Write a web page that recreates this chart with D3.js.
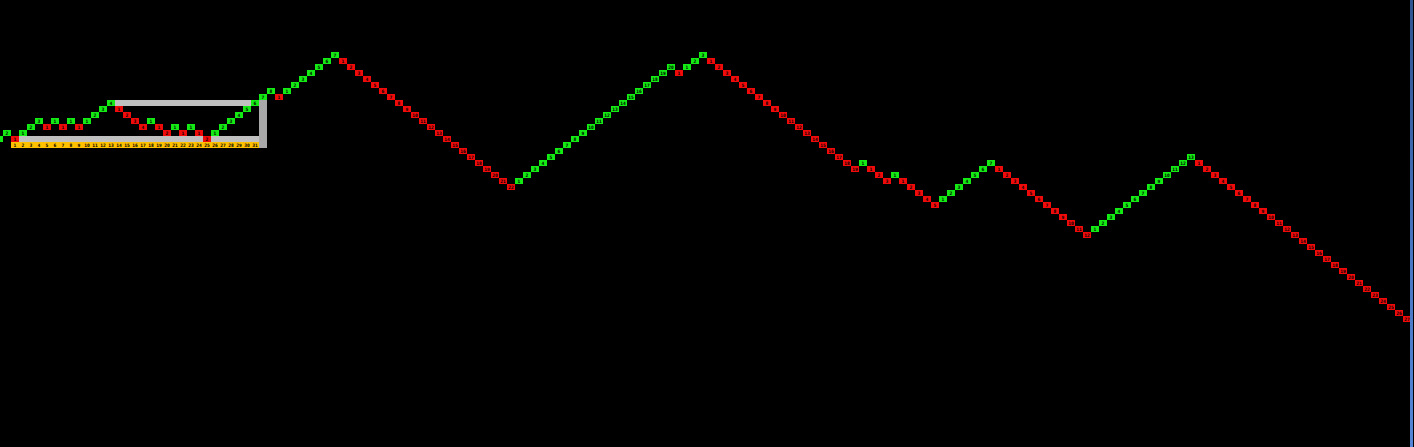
<!DOCTYPE html>
<html>
<head>
<meta charset="utf-8">
<script src="https://cdn.jsdelivr.net/npm/d3@7"></script>
<style>
  html, body { margin: 0; padding: 0; background: #000; overflow: hidden; }
  svg { display: block; }
</style>
</head>
<body>
<svg id="chart" width="1414" height="447"></svg>
<script>
// Signed run lengths of the walk: + = up (green), - = down (red)
const runs = [2, -1, 3, -1, 1, -1, 1, -1, 4, -4, 1, -2, 1, -1, 1, -2, 8, -1, 7, -22, 20, -1, 3, -19, 1, -3, 1, -5, 7, -12, 13, -27];
// Ruler labels under the framed area
const rulerLabels = ["1","2","3","4","5","6","7","8","9","10","11","12","13","14","15","16","17","18","19","20","21","22","23","24","25","26","27","28","29","30","31"];
const rulerStart = 2;     // first step index of the ruler
const frameTopLevel = 7;  // level of the frame's top bar
const frameTopFrom = 14, frameRight = 33, frameBottomFrom = 2;

const W = 1414, H = 447;
const svg = d3.select("#chart");
svg.append("rect").attr("width", W).attr("height", H).attr("fill", "#000");

// build steps
const steps = [];
let level = 0;
runs.forEach(r => {
  const dir = Math.sign(r);
  for (let k = 1; k <= Math.abs(r); k++) {
    level += dir;
    steps.push({ i: steps.length, level, dir, count: k });
  }
});

const cellW = 8, cellH = 6;
const x = d3.scaleLinear().domain([0, steps.length]).range([-5, -5 + cellW * steps.length]);
const y = d3.scaleLinear().domain([0, 1]).range([142, 142 - cellH]);

const gray = "#c0c0c0", grayV = "#a9a9a9";
// frame: top bar
svg.append("rect")
  .attr("x", x(frameTopFrom)).attr("y", y(frameTopLevel))
  .attr("width", x(frameRight + 1) - x(frameTopFrom)).attr("height", cellH)
  .attr("fill", gray);
// bottom bar (level 1)
svg.append("rect")
  .attr("x", x(frameBottomFrom)).attr("y", y(1))
  .attr("width", x(frameRight) - x(frameBottomFrom)).attr("height", cellH)
  .attr("fill", gray);
// vertical bar
svg.append("rect")
  .attr("x", x(frameRight)).attr("y", y(frameTopLevel))
  .attr("width", cellW).attr("height", y(-1) - y(frameTopLevel))
  .attr("fill", grayV);

// ruler (level 0)
const ruler = svg.append("g");
ruler.selectAll("rect").data(rulerLabels).join("rect")
  .attr("x", (d, j) => x(rulerStart + j)).attr("y", y(0))
  .attr("width", cellW).attr("height", cellH)
  .attr("fill", "#ffc000");
ruler.selectAll("text").data(rulerLabels).join("text")
  .attr("x", (d, j) => x(rulerStart + j) + cellW / 2)
  .attr("y", y(0) + cellH / 2 + 0.3)
  .attr("text-anchor", "middle").attr("dominant-baseline", "middle")
  .attr("font-family", "DejaVu Sans Mono").attr("font-weight", "bold")
  .attr("font-size", 4.6).attr("fill", "#000")
  .text(d => d);

// walk squares
const g = svg.append("g");
g.selectAll("rect").data(steps).join("rect")
  .attr("x", d => x(d.i)).attr("y", d => y(d.level))
  .attr("width", cellW).attr("height", cellH)
  .attr("fill", d => d.dir > 0 ? "#14ea14" : "#f00a0a");
g.selectAll("text").data(steps).join("text")
  .attr("x", d => x(d.i) + cellW / 2)
  .attr("y", d => y(d.level) + cellH / 2 + 0.3)
  .attr("text-anchor", "middle").attr("dominant-baseline", "middle")
  .attr("font-family", "DejaVu Sans Mono").attr("font-weight", "bold")
  .attr("font-size", 4.6).attr("fill", "#000")
  .text(d => d.count);

// right edge blue line
const defs = svg.append("defs");
const grad = defs.append("linearGradient").attr("id", "blueGrad")
  .attr("x1", 0).attr("x2", 0).attr("y1", 0).attr("y2", 1);
grad.append("stop").attr("offset", "0%").attr("stop-color", "#2f5490");
grad.append("stop").attr("offset", "60%").attr("stop-color", "#4a78c4");
grad.append("stop").attr("offset", "100%").attr("stop-color", "#5585d5");
svg.append("rect").attr("x", 1410).attr("y", 0).attr("width", 3).attr("height", H)
  .attr("fill", "url(#blueGrad)");
</script>
</body>
</html>
